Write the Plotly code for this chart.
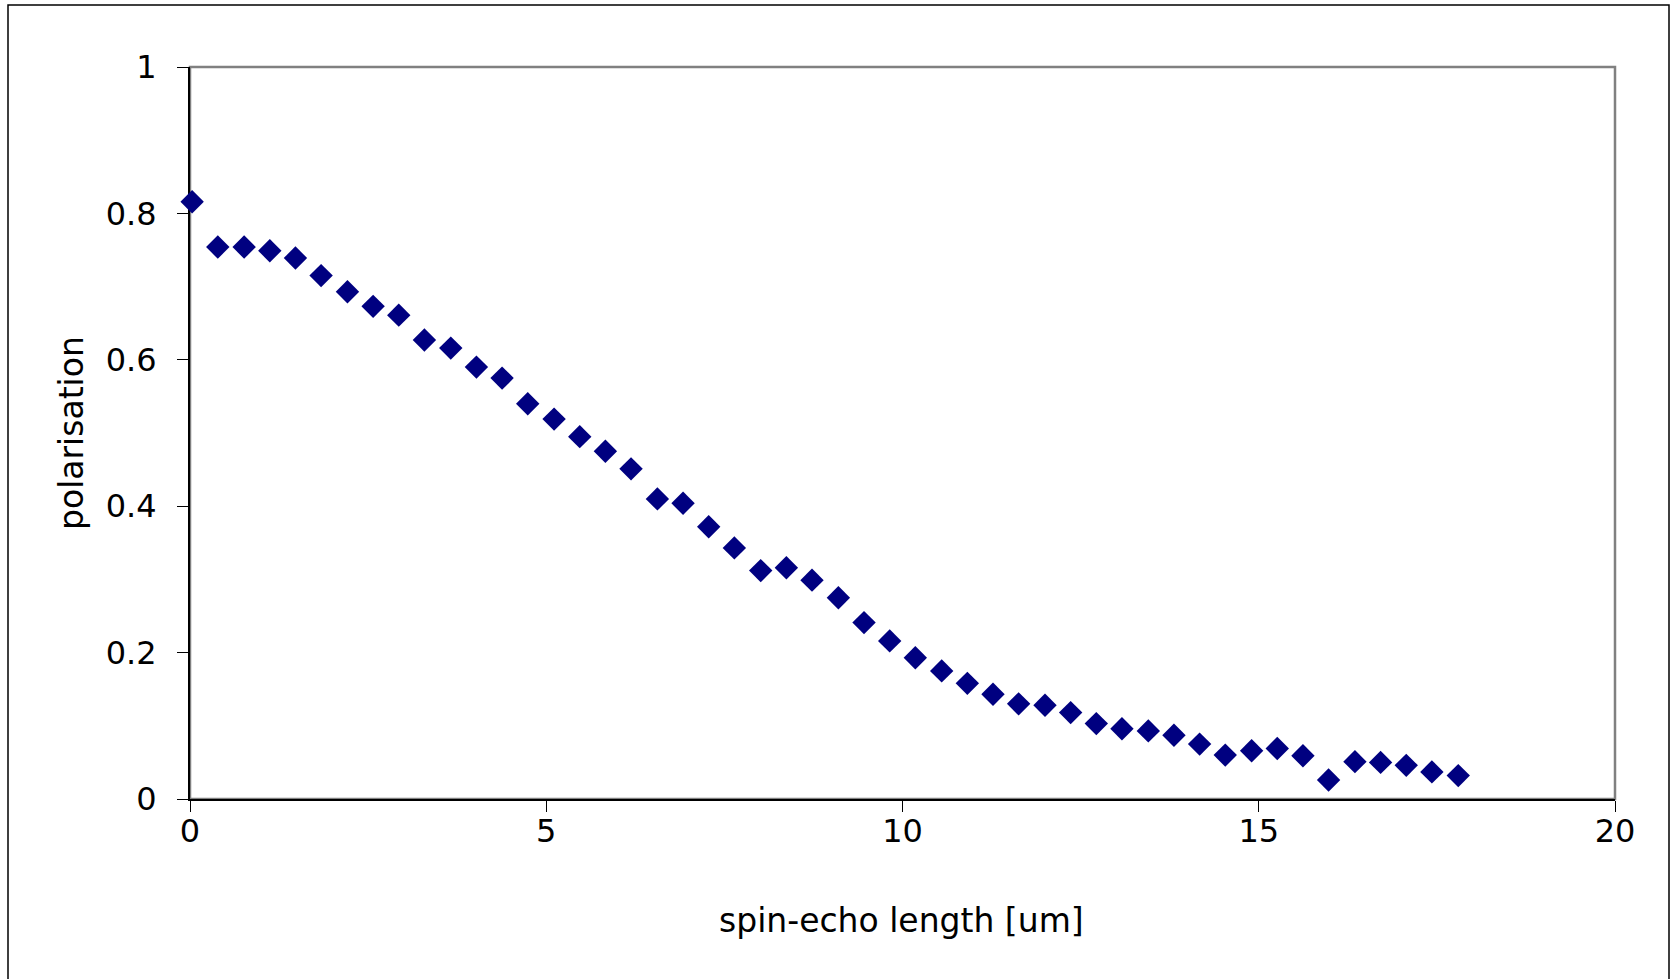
import plotly.graph_objects as go

# spin-echo length [um]
spin_echo_length = [
    0.03, 0.39, 0.76, 1.12, 1.48, 1.84, 2.21, 2.57, 2.93, 3.29,
    3.66, 4.02, 4.38, 4.74, 5.11, 5.47, 5.83, 6.19, 6.56, 6.92,
    7.28, 7.64, 8.01, 8.37, 8.73, 9.10, 9.46, 9.82, 10.18, 10.55,
    10.91, 11.27, 11.63, 12.00, 12.36, 12.72, 13.08, 13.45, 13.81, 14.17,
    14.53, 14.90, 15.26, 15.62, 15.98, 16.35, 16.71, 17.07, 17.43, 17.80,
]

# polarisation
polarisation = [
    0.816, 0.754, 0.754, 0.749, 0.739, 0.715, 0.693, 0.673, 0.661, 0.627,
    0.616, 0.590, 0.575, 0.540, 0.519, 0.495, 0.475, 0.451, 0.410, 0.404,
    0.372, 0.343, 0.312, 0.316, 0.299, 0.275, 0.241, 0.216, 0.193, 0.175,
    0.158, 0.143, 0.130, 0.128, 0.118, 0.103, 0.096, 0.093, 0.087, 0.075,
    0.060, 0.066, 0.069, 0.059, 0.026, 0.051, 0.050, 0.046, 0.037, 0.032,
]

x_ticks = [0, 5, 10, 15, 20]
y_ticks = [0, 0.2, 0.4, 0.6, 0.8, 1]
x_title = "spin-echo length [um]"
y_title = "polarisation"

W, H = 1677, 979
L, R, T, B = 190, 62, 67, 180
PW, PH = W - L - R, H - T - B


def px_x(px):
    return (px - L) / PW


def px_y(py):
    return (H - B - py) / PH


FONT = "DejaVu Sans"

fig = go.Figure()
fig.add_trace(go.Scatter(
    x=spin_echo_length,
    y=polarisation,
    mode="markers",
    marker=dict(symbol="diamond", size=18, color="#000080", line=dict(width=0)),
    cliponaxis=False,
    showlegend=False,
))

axis_common = dict(
    showgrid=False,
    zeroline=False,
    showline=True,
    linecolor="#000000",
    linewidth=2,
    ticks="outside",
    ticklen=11,
    tickwidth=1,
    tickcolor="#000000",
    tickfont=dict(family=FONT, size=32, color="#000000"),
    layer="below traces",
)

fig.update_xaxes(range=[0, 20], tickvals=x_ticks, ticklabelstandoff=-8, **axis_common)
fig.update_yaxes(range=[0, 1], tickvals=y_ticks, ticklabelstandoff=14, **axis_common)

shapes = [
    # grey plot-area frame (top and right visible)
    dict(type="rect", xref="paper", yref="paper", x0=0, x1=1, y0=0, y1=1,
         line=dict(color="#808080", width=2.5), layer="below"),
    # outer chart border
    dict(type="rect", xref="paper", yref="paper",
         x0=px_x(8), x1=px_x(1669), y0=px_y(983), y1=px_y(5),
         line=dict(color="#000000", width=1.5), layer="below"),
]

annotations = [
    dict(text=x_title, xref="paper", yref="paper", x=px_x(901), y=px_y(920),
         showarrow=False, xanchor="center", yanchor="middle",
         font=dict(family=FONT, size=33, color="#000000")),
    dict(text=y_title, xref="paper", yref="paper", x=px_x(71), y=px_y(433),
         showarrow=False, xanchor="center", yanchor="middle", textangle=-90,
         font=dict(family=FONT, size=33, color="#000000")),
]

fig.update_layout(
    width=W, height=H,
    margin=dict(l=L, r=R, t=T, b=B, pad=0),
    paper_bgcolor="#ffffff",
    plot_bgcolor="#ffffff",
    shapes=shapes,
    annotations=annotations,
    font=dict(family=FONT, color="#000000"),
)

fig.write_html(
    "out.html",
    config={"displayModeBar": False},
    post_script="document.body.style.margin='0';document.body.style.overflow='hidden';",
)
